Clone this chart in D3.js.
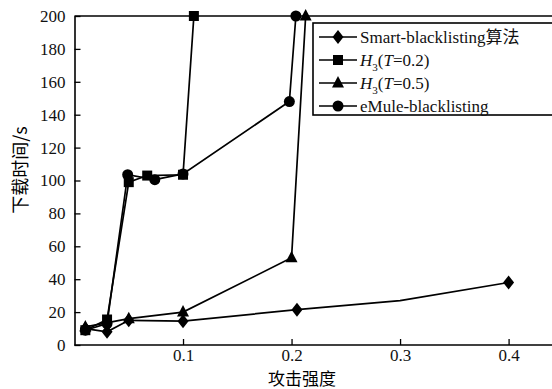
<!DOCTYPE html>
<html lang="zh">
<head>
<meta charset="UTF-8">
<title>下载时间</title>
<style>
  body { margin: 0; background: #fff; }
  svg text { font-family: "Liberation Serif", "Times New Roman", serif; }
  svg text.cjk, svg tspan.cjk { font-family: "Noto Sans CJK SC", sans-serif; }
</style>
</head>
<body>
<div id="chart"></div>
<script src="https://d3js.org/d3.v7.min.js"></script>
<script>
// values
var smartX = [0.01, 0.03, 0.05, 0.1, 0.205, 0.3, 0.4]
var smartY = [10, 8, 15, 14.5, 21.5, 27, 38]
var smartMark = [true, true, true, true, true, false, true]  // no marker at the 0.3 bend

var h02X = [0.01, 0.03, 0.05, 0.067, 0.1, 0.11]
var h02Y = [9, 15.5, 99, 103, 103.5, 200]

var h05X = [0.01, 0.05, 0.1, 0.2, 0.213]
var h05Y = [11, 16, 20, 53, 200]

var emuleX = [0.01, 0.03, 0.049, 0.074, 0.1, 0.198, 0.204]
var emuleY = [9, 13, 103.5, 100.5, 104, 148, 200]

var xTicks = [0.1, 0.2, 0.3, 0.4]
var yTicks = [0, 20, 40, 60, 80, 100, 120, 140, 160, 180, 200]

var width = 552, height = 389
var svg = d3.select("#chart").append("svg")
  .attr("width", width).attr("height", height)

var x = d3.scaleLinear().domain([0, 0.44]).range([74.5, 552])
var y = d3.scaleLinear().domain([0, 200]).range([345, 16])

// top frame line
svg.append("line")
  .attr("x1", x(0)).attr("x2", width)
  .attr("y1", y(200)).attr("y2", y(200))
  .attr("stroke", "#000").attr("stroke-width", 1.6)

var xAxis = d3.axisBottom(x).tickValues(xTicks).tickFormat(d3.format(".1f"))
  .tickSizeInner(-6).tickSizeOuter(0).tickPadding(4)
var yAxis = d3.axisLeft(y).tickValues(yTicks)
  .tickSizeInner(-6).tickSizeOuter(0).tickPadding(9)

var gx = svg.append("g").attr("transform", "translate(0," + y(0) + ")").call(xAxis)
var gy = svg.append("g").attr("transform", "translate(" + x(0) + ",0)").call(yAxis)
gx.select(".domain").attr("d", "M" + x(0) + ",0H" + width)
;[gx, gy].forEach(function(g){
  g.select(".domain").attr("stroke-width", 1.6)
  g.selectAll(".tick line").attr("stroke-width", 1.3)
  g.selectAll("text").style("font-size", "17px").attr("fill", "#111")
})

// axis titles
svg.append("text").attr("class", "cjk")
  .attr("x", 302).attr("y", 385)
  .attr("text-anchor", "middle").style("font-size", "17px")
  .text("攻击强度")
svg.append("text").attr("class", "cjk")
  .attr("transform", "translate(27,170) rotate(-90)")
  .attr("text-anchor", "middle").style("font-size", "18px")
  .text("下载时间/s")

var series = [
  { xs: smartX, ys: smartY, shape: "diamond", marks: smartMark },
  { xs: h05X, ys: h05Y, shape: "triangle" },
  { xs: h02X, ys: h02Y, shape: "square" },
  { xs: emuleX, ys: emuleY, shape: "circle" }
]

var line = d3.line().x(function(d){ return x(d[0]) }).y(function(d){ return y(d[1]) })

function marker(g, shape, cx, cy) {
  if (shape == "circle") {
    g.append("circle").attr("cx", cx).attr("cy", cy).attr("r", 5.5).attr("fill", "#000")
  } else if (shape == "square") {
    g.append("rect").attr("x", cx - 5).attr("y", cy - 5).attr("width", 10).attr("height", 10).attr("fill", "#000")
  } else if (shape == "triangle") {
    g.append("path").attr("d", "M" + cx + "," + (cy - 7) + "L" + (cx + 6) + "," + (cy + 4.5) + "L" + (cx - 6) + "," + (cy + 4.5) + "Z").attr("fill", "#000")
  } else {
    g.append("path").attr("d", "M" + cx + "," + (cy - 7) + "L" + (cx + 5.5) + "," + cy + "L" + cx + "," + (cy + 7) + "L" + (cx - 5.5) + "," + cy + "Z").attr("fill", "#000")
  }
}

series.forEach(function(s){
  var pts = s.xs.map(function(v, i){ return [v, s.ys[i]] })
  svg.append("path").datum(pts)
    .attr("d", line).attr("fill", "none")
    .attr("stroke", "#000").attr("stroke-width", 1.7)
  var g = svg.append("g")
  pts.forEach(function(p, i){
    if (s.marks && !s.marks[i]) return
    marker(g, s.shape, x(p[0]), y(p[1]))
  })
})

// legend
var legendNames = ["Smart-blacklisting算法", "H3(T=0.2)", "H3(T=0.5)", "eMule-blacklisting"]
var legendShapes = ["diamond", "square", "triangle", "circle"]
var lg = svg.append("g")
lg.append("rect").attr("x", 313).attr("y", 23).attr("width", 260).attr("height", 92)
  .attr("fill", "#fff").attr("stroke", "#000").attr("stroke-width", 1.6)
legendNames.forEach(function(name, i){
  var ly = 37 + i * 23
  lg.append("line").attr("x1", 319).attr("x2", 357).attr("y1", ly).attr("y2", ly)
    .attr("stroke", "#000").attr("stroke-width", 1.7)
  marker(lg, legendShapes[i], 338, ly)
  var t = lg.append("text").attr("x", 360).attr("y", ly + 6).style("font-size", "17px").attr("fill", "#111")
  if (name.indexOf("H3") == 0) {
    var tval = name.slice(5, 8)
    t.append("tspan").attr("font-style", "italic").text("H")
    t.append("tspan").style("font-size", "11px").attr("dy", 5).text("3")
    t.append("tspan").attr("dy", -5).text("(")
    t.append("tspan").attr("font-style", "italic").text("T")
    t.append("tspan").text("=" + tval + ")")
  } else if (name.indexOf("算法") > 0) {
    t.append("tspan").text(name.replace("算法", ""))
    t.append("tspan").attr("class", "cjk").text("算法")
  } else {
    t.text(name)
  }
})
</script>
</body>
</html>
